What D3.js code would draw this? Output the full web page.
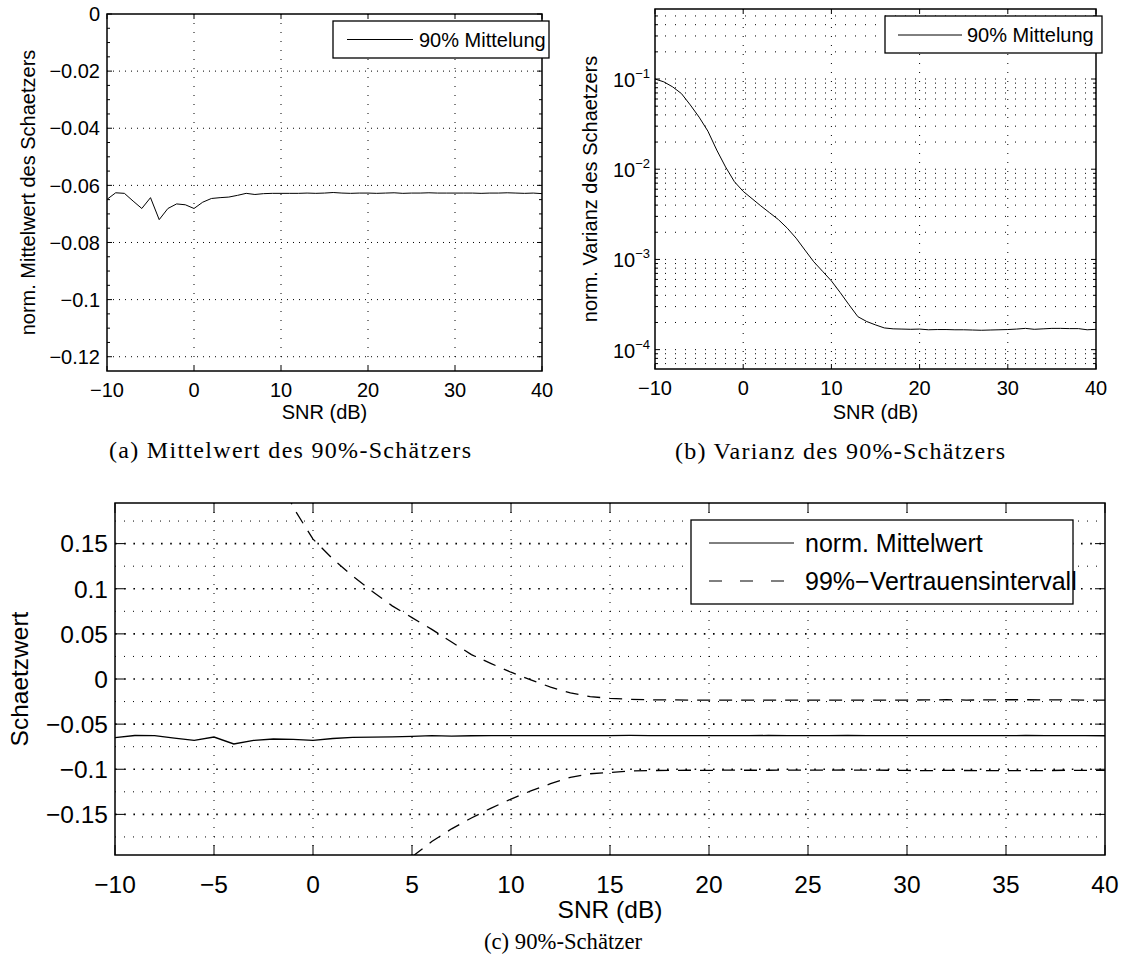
<!DOCTYPE html>
<html lang="de">
<head>
<meta charset="UTF-8">
<title>90%-Schätzer</title>
<script src="https://d3js.org/d3.v7.min.js"></script>
<style>
  body { margin: 0; background: #fff; }
  svg { display: block; font-family: "Liberation Sans", Arial, sans-serif; }
  .caption { font-family: "Liberation Serif", serif; }
</style>
</head>
<body>
<svg id="fig" width="1124" height="965"></svg>
<script>
  // SNR in dB, one value per simulated point
  const snr = [-10, -9, -8, -7, -6, -5, -4, -3, -2, -1, 0, 1, 2, 3, 4, 5, 6, 7, 8, 9, 10,
    11, 12, 13, 14, 15, 16, 17, 18, 19, 20, 21, 22, 23, 24, 25, 26, 27, 28, 29, 30,
    31, 32, 33, 34, 35, 36, 37, 38, 39, 40];

  // normalised mean of the estimator
  const meanVals = [-0.0649, -0.0626, -0.0628, -0.0655, -0.0681, -0.0643, -0.0720, -0.0681, -0.0665, -0.0668,
    -0.0681, -0.0659, -0.0646, -0.0643, -0.0641, -0.0635, -0.0628, -0.0632, -0.0629, -0.0628, -0.0628,
    -0.0628, -0.0628, -0.0627, -0.0628, -0.0627, -0.0625, -0.0627, -0.0628, -0.0627, -0.0627,
    -0.0628, -0.0627, -0.0626, -0.0628, -0.0627, -0.0627, -0.0626, -0.0627, -0.0627, -0.0627,
    -0.0627, -0.0627, -0.0628, -0.0627, -0.0627, -0.0626, -0.0627, -0.0628, -0.0627, -0.0629];

  // normalised variance of the estimator
  const varVals = [0.100, 0.093, 0.0818, 0.0689, 0.0516, 0.0378, 0.0264, 0.0163, 0.0106, 0.00728,
    0.00568, 0.00472, 0.00392, 0.00329, 0.00276, 0.00222, 0.00172, 0.00127, 0.000942, 0.000738, 0.000578,
    0.000429, 0.000314, 0.000232, 0.000205, 0.000188, 0.000174, 0.000170, 0.000169, 0.000168, 0.000169,
    0.000166, 0.000167, 0.000167, 0.000166, 0.000166, 0.000165, 0.000164, 0.000165, 0.000166, 0.000167,
    0.000169, 0.000172, 0.000168, 0.000170, 0.000172, 0.000172, 0.000171, 0.000171, 0.000166, 0.000168];

  // 99% confidence interval, upper and lower bound
  const upperVals = [0.884, 0.852, 0.795, 0.722, 0.613, 0.519, 0.415, 0.315, 0.243, 0.19,
    0.155, 0.133, 0.114, 0.097, 0.081, 0.068, 0.055, 0.041, 0.027, 0.017, 0.0075,
    -0.001, -0.009, -0.0155, -0.0195, -0.0215, -0.0225, -0.023,
    -0.0232, -0.0233, -0.0233, -0.0234, -0.0233, -0.0233, -0.0234, -0.0234, -0.0234, -0.0235, -0.0234,
    -0.0234, -0.0233, -0.0232, -0.0230, -0.0233, -0.0232, -0.0230, -0.0230, -0.0231, -0.0231, -0.0234, -0.0233];
  const lowerVals = [-1.01, -0.978, -0.921, -0.853, -0.75, -0.648, -0.559, -0.451, -0.376, -0.323,
    -0.294, -0.272, -0.252, -0.236, -0.22,
    -0.197, -0.180, -0.166, -0.154, -0.143, -0.133, -0.124, -0.116, -0.109, -0.105, -0.1035, -0.102, -0.1015,
    -0.1012, -0.1011, -0.1012, -0.1010, -0.1011, -0.1011, -0.1010, -0.1010, -0.1009, -0.1008, -0.1010,
    -0.1011, -0.1013, -0.1016, -0.1012, -0.1014, -0.1016, -0.1016, -0.1015, -0.1015, -0.1011, -0.1013, -0.1012];

  const xTicksSmall = [-10, 0, 10, 20, 30, 40];
  const xTicksBig = [-10, -5, 0, 5, 10, 15, 20, 25, 30, 35, 40];
  const meanTicks = [0, -0.02, -0.04, -0.06, -0.08, -0.1, -0.12];
  const meanMinor = [-0.005, -0.01, -0.015, -0.025, -0.03, -0.035, -0.045, -0.05, -0.055,
    -0.065, -0.07, -0.075, -0.085, -0.09, -0.095, -0.105, -0.11, -0.115];
  const varDecades = [1e-1, 1e-2, 1e-3, 1e-4];
  const varExp = ["−1", "−2", "−3", "−4"];
  const ciTicks = [0.15, 0.1, 0.05, 0, -0.05, -0.1, -0.15];
  const ciMinor = [0.175, 0.125, 0.075, 0.025, -0.025, -0.075, -0.125, -0.175];

  const fmt = v => String(v).replace("-", "−");
  const svg = d3.select("#fig");
  svg.append("rect").attr("width", 1124).attr("height", 965).attr("fill", "#fff");

  let clipId = 0;
  function frame(dims) {
    const g = svg.append("g");
    const id = "clip" + (clipId++);
    svg.append("clipPath").attr("id", id).append("rect")
      .attr("x", dims.left).attr("y", dims.top)
      .attr("width", dims.right - dims.left).attr("height", dims.bottom - dims.top);
    return { g, id };
  }

  function hGrid(g, y, vals, x0, x1, dash, w) {
    g.append("g").selectAll("line").data(vals).join("line")
      .attr("x1", x0).attr("x2", x1)
      .attr("y1", d => y(d)).attr("y2", d => y(d))
      .attr("stroke", "#000").attr("stroke-width", w)
      .attr("stroke-dasharray", dash);
  }
  function vGrid(g, x, vals, y0, y1, dash, w) {
    g.append("g").selectAll("line").data(vals).join("line")
      .attr("y1", y0).attr("y2", y1)
      .attr("x1", d => x(d)).attr("x2", d => x(d))
      .attr("stroke", "#000").attr("stroke-width", w)
      .attr("stroke-dasharray", dash);
  }
  function ticks(g, x, y, xv, yv, d, lenX, lenY) {
    g.append("g").selectAll("line").data(xv).join("line")
      .attr("x1", v => x(v)).attr("x2", v => x(v))
      .attr("y1", d.bottom).attr("y2", d.bottom - lenX).attr("stroke", "#000");
    g.append("g").selectAll("line").data(xv).join("line")
      .attr("x1", v => x(v)).attr("x2", v => x(v))
      .attr("y1", d.top).attr("y2", d.top + lenX).attr("stroke", "#000");
    g.append("g").selectAll("line").data(yv).join("line")
      .attr("y1", v => y(v)).attr("y2", v => y(v))
      .attr("x1", d.left).attr("x2", d.left + lenY).attr("stroke", "#000");
    g.append("g").selectAll("line").data(yv).join("line")
      .attr("y1", v => y(v)).attr("y2", v => y(v))
      .attr("x1", d.right).attr("x2", d.right - lenY).attr("stroke", "#000");
  }
  function box(g, d) {
    g.append("rect").attr("x", d.left).attr("y", d.top)
      .attr("width", d.right - d.left).attr("height", d.bottom - d.top)
      .attr("fill", "none").attr("stroke", "#000").attr("stroke-width", 1.5);
  }
  function legend(g, L) {
    g.append("rect").attr("x", L.x0).attr("y", L.y0)
      .attr("width", L.x1 - L.x0).attr("height", L.y1 - L.y0)
      .attr("fill", "#fff").attr("stroke", "#000").attr("stroke-width", 1.3);
    L.items.forEach(it => {
      g.append("line").attr("x1", L.lx0).attr("x2", L.lx1).attr("y1", it.y).attr("y2", it.y)
        .attr("stroke", "#000").attr("stroke-width", 1)
        .attr("stroke-dasharray", it.dash || null);
      g.append("text").attr("x", L.tx).attr("y", it.y).attr("dy", "0.36em")
        .attr("font-size", L.fs).text(it.label);
    });
  }

  // ---------- (a) Mittelwert ----------
  {
    const d = { left: 107, right: 542, top: 14, bottom: 371 };
    const x = d3.scaleLinear().domain([-10, 40]).range([d.left, d.right]);
    const y = d3.scaleLinear().domain([-0.125, 0]).range([d.bottom, d.top]);
    const { g, id } = frame(d);
    hGrid(g, y, meanTicks.slice(1), d.left, d.right, "1,5", 1);
    vGrid(g, x, xTicksSmall.slice(1, -1), d.top, d.bottom, "1,8", 1);
    g.append("path").datum(snr).attr("clip-path", `url(#${id})`)
      .attr("fill", "none").attr("stroke", "#000").attr("stroke-width", 1)
      .attr("d", d3.line().x(s => x(s)).y((s, i) => y(meanVals[i])));
    ticks(g, x, y, xTicksSmall, meanTicks, d, 5, 5);
    ticks(g, x, y, [], meanMinor, d, 0, 3);
    box(g, d);
    g.append("g").selectAll("text").data(xTicksSmall).join("text")
      .attr("x", v => x(v)).attr("y", 397).attr("text-anchor", "middle")
      .attr("font-size", 20).text(fmt);
    g.append("g").selectAll("text").data(meanTicks).join("text")
      .attr("x", 100).attr("y", v => y(v)).attr("dy", "0.36em").attr("text-anchor", "end")
      .attr("font-size", 20).text(fmt);
    g.append("text").attr("x", (d.left + d.right) / 2).attr("y", 419)
      .attr("text-anchor", "middle").attr("font-size", 20).text("SNR (dB)");
    g.append("text").attr("transform", `translate(35,${(d.top + d.bottom) / 2}) rotate(-90)`)
      .attr("text-anchor", "middle").attr("font-size", 20).text("norm. Mittelwert des Schaetzers");
    legend(g, { x0: 333, x1: 549, y0: 21, y1: 58, lx0: 347, lx1: 413, tx: 419, fs: 20,
      items: [{ y: 39.5, label: "90% Mittelung" }] });
    g.append("text").attr("class", "caption").attr("x", 290).attr("y", 458)
      .attr("text-anchor", "middle").attr("font-size", 24)
      .attr("textLength", 362).attr("lengthAdjust", "spacing")
      .text("(a) Mittelwert des 90%-Schätzers");
  }

  // ---------- (b) Varianz ----------
  {
    const d = { left: 655, right: 1096, top: 9, bottom: 369 };
    const x = d3.scaleLinear().domain([-10, 40]).range([d.left, d.right]);
    const y = d3.scaleLog().domain([6.1e-5, 0.597]).range([d.bottom, d.top]);
    const { g, id } = frame(d);
    const minor = [];
    [1e-5, 1e-4, 1e-3, 1e-2, 1e-1].forEach(dec => {
      for (let k = 2; k <= 9; k++) {
        const v = +(k * dec).toPrecision(2);
        if (v > 6.1e-5 && v < 0.597) minor.push(v);
      }
    });
    hGrid(g, y, varDecades.concat(minor), d.left, d.right, "1,9", 1);
    vGrid(g, x, xTicksSmall.slice(1, -1), d.top, d.bottom, "1,8", 1);
    g.append("path").datum(snr).attr("clip-path", `url(#${id})`)
      .attr("fill", "none").attr("stroke", "#000").attr("stroke-width", 1)
      .attr("d", d3.line().x(s => x(s)).y((s, i) => y(varVals[i])));
    ticks(g, x, y, xTicksSmall, varDecades, d, 5, 5);
    ticks(g, x, y, [], minor, d, 0, 3);
    box(g, d);
    g.append("g").selectAll("text").data(xTicksSmall).join("text")
      .attr("x", v => x(v)).attr("y", 395).attr("text-anchor", "middle")
      .attr("font-size", 20).text(fmt);
    const yl = g.append("g").selectAll("text").data(varDecades).join("text")
      .attr("x", 650).attr("y", v => y(v) + 8).attr("text-anchor", "end")
      .attr("font-size", 20);
    yl.append("tspan").text("10");
    yl.append("tspan").attr("dy", -9).attr("font-size", 13).text((v, i) => varExp[i]);
    g.append("text").attr("x", (d.left + d.right) / 2).attr("y", 419)
      .attr("text-anchor", "middle").attr("font-size", 20).text("SNR (dB)");
    g.append("text").attr("transform", `translate(597,${(d.top + d.bottom) / 2}) rotate(-90)`)
      .attr("text-anchor", "middle").attr("font-size", 20).text("norm. Varianz des Schaetzers");
    legend(g, { x0: 885, x1: 1102, y0: 16, y1: 53, lx0: 898, lx1: 962, tx: 967, fs: 20,
      items: [{ y: 35, label: "90% Mittelung" }] });
    g.append("text").attr("class", "caption").attr("x", 840).attr("y", 459)
      .attr("text-anchor", "middle").attr("font-size", 24)
      .attr("textLength", 330).attr("lengthAdjust", "spacing")
      .text("(b) Varianz des 90%-Schätzers");
  }

  // ---------- (c) Schaetzer mit Vertrauensintervall ----------
  {
    const d = { left: 115, right: 1105, top: 503, bottom: 855 };
    const x = d3.scaleLinear().domain([-10, 40]).range([d.left, d.right]);
    const y = d3.scaleLinear().domain([-0.195, 0.195]).range([d.bottom, d.top]);
    const { g, id } = frame(d);
    hGrid(g, y, ciMinor, d.left, d.right, "1,8", 1);
    hGrid(g, y, ciTicks, d.left, d.right, "1.6,7.6", 1.6);
    vGrid(g, x, xTicksBig.slice(1, -1), d.top, d.bottom, "1,8", 1);
    const lines = g.append("g").attr("clip-path", `url(#${id})`)
      .attr("fill", "none").attr("stroke", "#000").attr("stroke-width", 1.3);
    lines.append("path").datum(snr)
      .attr("d", d3.line().x(s => x(s)).y((s, i) => y(meanVals[i])));
    [upperVals, lowerVals].forEach(arr => {
      lines.append("path").datum(snr).attr("stroke-dasharray", "13,9")
        .attr("d", d3.line().x(s => x(s)).y((s, i) => y(arr[i])));
    });
    ticks(g, x, y, xTicksBig, ciTicks, d, 10, 10);
    box(g, d);
    g.append("g").selectAll("text").data(xTicksBig).join("text")
      .attr("x", v => x(v)).attr("y", 893).attr("text-anchor", "middle")
      .attr("font-size", 24.5).text(fmt);
    g.append("g").selectAll("text").data(ciTicks).join("text")
      .attr("x", 108).attr("y", v => y(v)).attr("dy", "0.36em").attr("text-anchor", "end")
      .attr("font-size", 24.5).text(fmt);
    g.append("text").attr("x", (d.left + d.right) / 2).attr("y", 918)
      .attr("text-anchor", "middle").attr("font-size", 24.5).text("SNR (dB)");
    g.append("text").attr("transform", `translate(28,${(d.top + d.bottom) / 2}) rotate(-90)`)
      .attr("text-anchor", "middle").attr("font-size", 24.5).text("Schaetzwert");
    legend(g, { x0: 691, x1: 1073, y0: 520, y1: 604, lx0: 709, lx1: 794, tx: 805, fs: 25,
      items: [{ y: 543, label: "norm. Mittelwert" },
              { y: 581, label: "99%−Vertrauensintervall", dash: "13,18" }] });
    g.append("text").attr("class", "caption").attr("x", 563).attr("y", 949)
      .attr("text-anchor", "middle").attr("font-size", 24)
      .attr("textLength", 158).attr("lengthAdjust", "spacingAndGlyphs")
      .text("(c) 90%-Schätzer");
  }
</script>
</body>
</html>
